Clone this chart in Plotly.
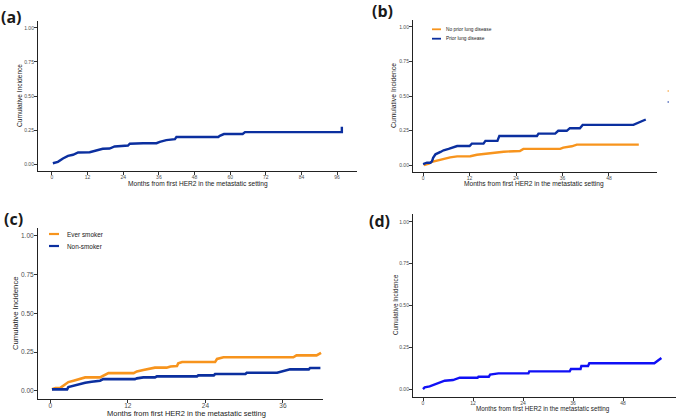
import plotly.graph_objects as go

# (a) overall cohort
a_month = [0.3, 2.0, 3.7, 5.4, 7.1, 8.8, 12.7, 14.9, 17.1, 19.4, 21.1, 25.6, 26.2, 30.7, 35.2, 36.3,
           38.5, 41.4, 41.9, 56.0, 56.5, 57.9, 64.2, 65.0, 97.6, 97.6]
a_inc = [0.007, 0.017, 0.042, 0.061, 0.069, 0.086, 0.088, 0.100, 0.113, 0.115, 0.130, 0.137, 0.150, 0.154,
         0.154, 0.164, 0.176, 0.184, 0.199, 0.199, 0.208, 0.221, 0.221, 0.235, 0.235, 0.275]

# (b) prior lung disease
b_prior_month = [0.0, 1.0, 1.9, 2.3, 2.6, 3.2, 4.5, 5.3, 6.6, 7.9, 8.8, 12.0, 12.6, 15.6, 16.1, 19.2, 19.7,
                 29.4, 29.8, 34.1, 34.9, 37.1, 37.9, 40.5, 41.2, 54.3, 57.5]
b_prior_inc = [0.007, 0.017, 0.017, 0.027, 0.053, 0.078, 0.095, 0.107, 0.117, 0.129, 0.138, 0.138, 0.155,
               0.155, 0.175, 0.175, 0.211, 0.211, 0.228, 0.228, 0.248, 0.248, 0.267, 0.267, 0.291, 0.291, 0.330]
b_noprior_month = [0.2, 1.5, 2.3, 3.6, 5.3, 7.0, 8.8, 12.2, 13.9, 16.5, 19.1, 20.8, 25.0, 25.9, 35.4, 36.2,
                   38.4, 39.7, 55.7]
b_noprior_inc = [0.0, 0.010, 0.024, 0.034, 0.044, 0.056, 0.063, 0.064, 0.075, 0.083, 0.090, 0.097, 0.102,
                 0.117, 0.117, 0.126, 0.136, 0.148, 0.148]

# (c) smoking status
c_ever_month = [0.26, 0.8, 1.5, 2.1, 2.8, 3.6, 4.4, 5.4, 7.7, 8.2, 9.0, 12.9, 13.4, 14.4, 15.5, 16.2, 18.0,
                18.6, 19.6, 19.8, 20.4, 25.5, 25.8, 26.8, 37.6, 38.1, 41.2, 41.9]
c_ever_inc = [0.009, 0.017, 0.017, 0.037, 0.056, 0.065, 0.075, 0.086, 0.086, 0.095, 0.114, 0.114, 0.125,
              0.134, 0.144, 0.149, 0.149, 0.157, 0.160, 0.177, 0.185, 0.185, 0.205, 0.216, 0.216, 0.228,
              0.228, 0.245]
c_non_month = [0.26, 2.6, 2.8, 3.6, 4.6, 5.4, 6.4, 7.7, 8.2, 13.1, 13.4, 14.4, 16.2, 16.5, 22.7, 22.9, 25.3,
               25.5, 30.2, 30.4, 35.1, 36.1, 37.1, 40.0, 40.2, 41.8]
c_non_inc = [0.009, 0.009, 0.024, 0.034, 0.043, 0.052, 0.058, 0.065, 0.075, 0.075, 0.080, 0.086, 0.086,
             0.093, 0.093, 0.099, 0.099, 0.108, 0.108, 0.116, 0.116, 0.127, 0.138, 0.138, 0.147, 0.147]

# (d)
d_month = [0.0, 0.4, 1.6, 2.8, 4.0, 5.2, 7.2, 8.8, 13.1, 13.3, 15.8, 16.1, 18.1, 25.3, 25.5, 35.2, 35.5,
           37.8, 38.0, 39.6, 39.9, 55.5, 57.2]
d_inc = [0.0, 0.010, 0.016, 0.026, 0.036, 0.050, 0.054, 0.068, 0.068, 0.074, 0.074, 0.086, 0.094, 0.094,
         0.106, 0.106, 0.120, 0.120, 0.138, 0.138, 0.154, 0.154, 0.186]

y_ticks = [0, 0.25, 0.5, 0.75, 1.0]
x_ticks_a = [0, 12, 24, 36, 48, 60, 72, 84, 96]
x_ticks_bd = [0, 12, 24, 36, 48]
x_ticks_c = [0, 12, 24, 36]

W, H = 676, 419
NAVY = '#0b2f9f'
ORANGE = '#f7941d'
FONT = 'Liberation Sans, Arial, sans-serif'


def px(x):
    return x / W


def py(y):
    return 1 - y / H


fig = go.Figure()
fig.add_trace(go.Scatter(x=a_month, y=a_inc, mode='lines', line=dict(color=NAVY, width=2.4),
                         xaxis='x', yaxis='y', showlegend=False))
fig.add_trace(go.Scatter(x=b_noprior_month, y=b_noprior_inc, mode='lines', line=dict(color=ORANGE, width=2.4),
                         xaxis='x2', yaxis='y2', showlegend=False))
fig.add_trace(go.Scatter(x=b_prior_month, y=b_prior_inc, mode='lines', line=dict(color=NAVY, width=2.4),
                         xaxis='x2', yaxis='y2', showlegend=False))
fig.add_trace(go.Scatter(x=c_ever_month, y=c_ever_inc, mode='lines', line=dict(color=ORANGE, width=2.6),
                         xaxis='x3', yaxis='y3', showlegend=False))
fig.add_trace(go.Scatter(x=c_non_month, y=c_non_inc, mode='lines', line=dict(color=NAVY, width=2.6),
                         xaxis='x3', yaxis='y3', showlegend=False))
fig.add_trace(go.Scatter(x=d_month, y=d_inc, mode='lines', line=dict(color='#1010f5', width=2.4),
                         xaxis='x4', yaxis='y4', showlegend=False))


def xax(dom, rng, ticks, anchor, fs):
    return dict(domain=dom, range=rng, tickvals=ticks, anchor=anchor, showline=True, linecolor='#222',
                linewidth=1.1, ticks='outside', ticklen=3, tickcolor='#333', tickwidth=1,
                ticklabelstandoff=-2,
                showgrid=False, zeroline=False, tickfont=dict(size=fs, color='#4d4d4d', family=FONT))


def yax(dom, anchor, fs):
    return dict(domain=dom, range=[-0.05, 1.05], tickvals=y_ticks, tickformat='.2f', anchor=anchor,
                showline=True, linecolor='#222', linewidth=1.1, ticks='outside', ticklen=3,
                tickcolor='#333', tickwidth=1, showgrid=False, zeroline=False, ticklabelstandoff=-1,
                tickfont=dict(size=fs, color='#4d4d4d', family=FONT))


fig.update_layout(
    width=W, height=H, margin=dict(l=0, r=0, t=0, b=0),
    paper_bgcolor='white', plot_bgcolor='white',
    xaxis=xax([px(38), px(357)], [-4.7, 102.7], x_ticks_a, 'y', 5),
    yaxis=yax([py(171), py(21)], 'x', 5),
    xaxis2=xax([px(413), px(657)], [-2.6, 60.4], x_ticks_bd, 'y2', 5),
    yaxis2=yax([py(172), py(20)], 'x2', 5),
    xaxis3=xax([px(38), px(323)], [-1.9, 42.2], x_ticks_c, 'y3', 6.5),
    yaxis3=yax([py(398.5), py(228)], 'x3', 6.5),
    xaxis4=xax([px(413), px(676)], [-2.4, 60.7], x_ticks_bd, 'y4', 5),
    yaxis4=yax([py(397.4), py(213.6)], 'x4', 5),
)

ann = []


def label(x, y, text, size, angle=0, bold=False, xanchor='center', color='#1a1a1a'):
    ann.append(dict(x=px(x), y=py(y), xref='paper', yref='paper', text=text, showarrow=False,
                    textangle=angle, xanchor=xanchor, yanchor='middle',
                    font=dict(size=size, color=color,
                              family='Open Sans, Liberation Sans, sans-serif' if bold else FONT,
                              weight='bold' if bold else 'normal')))


label(11, 17, '(a)', 16, bold=True)
label(382, 10.5, '(b)', 16, bold=True)
label(13, 219, '(c)', 16, bold=True)
label(379, 221, '(d)', 16, bold=True)

xt = 'Months from first HER2 in the metastatic setting'
yt = 'Cumulative Incidence'
label(198, 184, xt, 6.6)
label(534, 184, xt, 6.6)
label(186, 413, xt, 7.5)
label(543, 409, xt, 6.3)
label(20, 96, yt, 6.6, angle=-90)
label(394, 96, yt, 6.8, angle=-90)
label(15, 313, yt, 7.7, angle=-90)
label(395, 305, yt, 6.3, angle=-90)

# legends
label(444, 29.3, 'No prior lung disease', 4.8, xanchor='left')
label(444, 38.7, 'Prior lung disease', 4.8, xanchor='left')
label(65, 234, 'Ever smoker', 6.4, xanchor='left')
label(65, 246, 'Non-smoker', 6.4, xanchor='left')

shapes = []


def seg(x0, x1, y, color, w):
    shapes.append(dict(type='line', xref='paper', yref='paper', x0=px(x0), x1=px(x1), y0=py(y), y1=py(y),
                       line=dict(color=color, width=w)))


seg(432, 441, 29.3, ORANGE, 1.8)
seg(432, 441, 38.7, NAVY, 1.8)
seg(49, 59, 234, ORANGE, 2.2)
seg(49, 59, 246, NAVY, 2.2)
# clipped legend remnant at far right of (b)
seg(667.5, 669, 91, ORANGE, 1.2)
seg(667.5, 669, 102, NAVY, 1.2)

fig.update_layout(annotations=ann, shapes=shapes)

# page body has a default margin; drop it so the figure sits at the window origin
fig.write_html('out.html', config={'displayModeBar': False},
               post_script="document.body.style.margin='0';")
